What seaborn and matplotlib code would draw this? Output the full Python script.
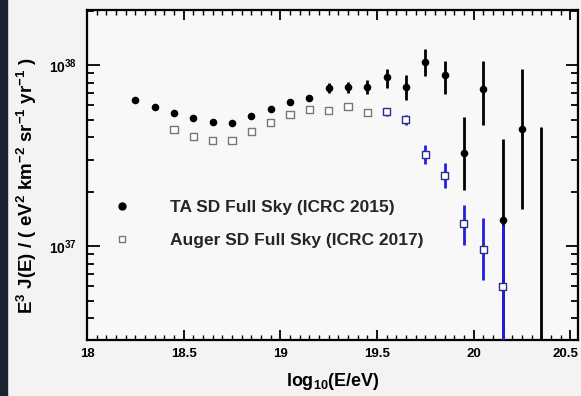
import numpy as np
import pandas as pd
import matplotlib
matplotlib.use("Agg")
import matplotlib.pyplot as plt
import matplotlib.ticker as mticker
import matplotlib.transforms as mtransforms
from matplotlib.lines import Line2D
from matplotlib.patches import Rectangle
import seaborn as sns

# ---------------- data (flux in units of 1e37 eV^2 km^-2 sr^-1 yr^-1) ----------------
ta_logE = [18.25, 18.35, 18.45, 18.55, 18.65, 18.75, 18.85, 18.95, 19.05, 19.15, 19.25,
           19.35, 19.45, 19.55, 19.65, 19.75, 19.85, 19.95, 20.05, 20.15, 20.25, 20.35]
ta_flux = [6.46, 5.89, 5.41, 5.12, 4.86, 4.77, 5.21, 5.71, 6.27, 6.59, 7.50,
           7.54, 7.59, 8.55, 7.59, 10.4, 8.77, 3.27, 7.35, 1.39, 4.42, 0.20]
ta_low = [6.40, 5.83, 5.35, 5.05, 4.78, 4.68, 5.10, 5.57, 6.08, 6.33, 7.00,
          7.00, 6.92, 7.46, 6.41, 8.69, 6.92, 2.04, 4.66, 0.01, 1.60, 0.01]
ta_high = [6.52, 5.95, 5.47, 5.19, 4.94, 4.86, 5.32, 5.85, 6.46, 6.86, 7.95,
           8.05, 8.26, 9.50, 8.81, 12.25, 10.52, 5.16, 10.52, 3.90, 9.50, 4.54]

auger_logE = [18.45, 18.55, 18.65, 18.75, 18.85, 18.95, 19.05, 19.15, 19.25,
              19.35, 19.45, 19.55, 19.65, 19.75, 19.85, 19.95, 20.05, 20.15]
auger_flux = [4.43, 4.02, 3.85, 3.82, 4.28, 4.82, 5.34, 5.71, 5.64,
              5.89, 5.45, 5.52, 5.01, 3.22, 2.47, 1.33, 0.962, 0.601]
auger_low = [4.40, 3.99, 3.82, 3.79, 4.24, 4.78, 5.29, 5.65, 5.57,
             5.81, 5.36, 5.22, 4.66, 2.84, 2.09, 1.01, 0.649, 0.01]
auger_high = [4.46, 4.05, 3.88, 3.85, 4.32, 4.86, 5.39, 5.77, 5.71,
              5.97, 5.54, 5.80, 5.29, 3.61, 2.88, 1.69, 1.43, 1.31]

legend_labels = ["TA SD Full Sky (ICRC 2015)", "Auger SD Full Sky (ICRC 2017)"]
x_ticks = [18, 18.5, 19, 19.5, 20, 20.5]
y_ticks = [1e37, 1e38]
y_tick_labels = [r"$10^{37}$", r"$10^{38}$"]

SCALE = 1e37
ta = pd.DataFrame({"logE": ta_logE,
                   "flux": np.array(ta_flux) * SCALE,
                   "low": np.array(ta_low) * SCALE,
                   "high": np.array(ta_high) * SCALE})
auger = pd.DataFrame({"logE": auger_logE,
                      "flux": np.array(auger_flux) * SCALE,
                      "low": np.array(auger_low) * SCALE,
                      "high": np.array(auger_high) * SCALE})

# ---------------- style ----------------
sns.set_theme(style="ticks")
plt.rcParams["font.family"] = ["Liberation Sans", "DejaVu Sans"]
plt.rcParams["font.weight"] = "bold"
plt.rcParams["mathtext.fontset"] = "custom"
plt.rcParams["mathtext.rm"] = "Liberation Sans:bold"
plt.rcParams["mathtext.bf"] = "Liberation Sans:bold"
plt.rcParams["mathtext.it"] = "Liberation Sans:bold"
plt.rcParams["mathtext.default"] = "bf"

W, H = 581, 396
fig = plt.figure(figsize=(W / 100, H / 100), dpi=100, facecolor="#f3f3f3")
ax = fig.add_axes([87 / W, 56 / H, 491 / W, 330.5 / H])
ax.set_facecolor("#f8f8f8")
fig.patches.append(Rectangle((0, 0), 7 / W, 1, transform=fig.transFigure,
                             color="#1b2230", zorder=0))

ax.set_yscale("log")

# error bars
ax.vlines(ta["logE"], ta["low"], ta["high"], color="black", lw=2.0, zorder=3)
ax.vlines(auger["logE"], auger["low"], auger["high"], color="#1f1fe0", lw=2.0, zorder=3.5)

# markers
sns.scatterplot(data=ta, x="logE", y="flux", ax=ax, color="black", marker="o",
                s=30, linewidth=0, edgecolor="black", zorder=4, legend=False)
auger_edges = ["#777777" if v < 19.5 else "#2c2c90" for v in auger["logE"]]
sns.scatterplot(data=auger, x="logE", y="flux", ax=ax, color="white", marker="s",
                s=26, linewidth=1.0, edgecolor=auger_edges, zorder=5, legend=False)

ax.set_xlim(18, 20.54)
ax.set_ylim(3.03e36, 2.03e38)

ax.xaxis.set_major_locator(mticker.FixedLocator(x_ticks))
ax.xaxis.set_major_formatter(mticker.FuncFormatter(lambda v, p: f"{v:g}"))
ax.xaxis.set_minor_locator(mticker.MultipleLocator(0.05))
ax.yaxis.set_major_locator(mticker.FixedLocator(y_ticks))
ax.yaxis.set_major_formatter(mticker.FixedFormatter(y_tick_labels))
ax.yaxis.set_minor_locator(mticker.LogLocator(base=10, subs=np.arange(2, 10)))
ax.yaxis.set_minor_formatter(mticker.NullFormatter())

ax.tick_params(which="both", direction="in", top=True, right=True, colors="black",
               width=1.3)
ax.tick_params(axis="x", which="major", length=7, pad=6, labelsize=9.5)
ax.tick_params(axis="x", which="minor", length=3.5, width=1.0)
ax.tick_params(axis="y", which="major", length=9, pad=7, labelsize=10)
ax.tick_params(axis="y", which="minor", length=5)
for s in ax.spines.values():
    s.set_color("black")
    s.set_linewidth(1.6)

# keep the last x tick label inside the image
fig.canvas.draw()
last_lbl = ax.get_xticklabels()[-1]
last_lbl.set_transform(last_lbl.get_transform() +
                       mtransforms.ScaledTranslation(-5 / 100, 0, fig.dpi_scale_trans))

ax.set_xlabel(r"log$_{10}$(E/eV)", fontsize=13, fontweight="bold", color="black")
ax.set_ylabel(r"E$^{3}$ J(E) / ( eV$^{2}$ km$^{-2}$ sr$^{-1}$ yr$^{-1}$ )",
              fontsize=13.5, fontweight="bold", color="black")
ax.xaxis.set_label_coords(0.5, -0.095)
ax.yaxis.set_label_coords(-0.097, 0.466)

handles = [Line2D([], [], ls="none", marker="o", color="black", markersize=5),
           Line2D([], [], ls="none", marker="s", markerfacecolor="white",
                  markeredgecolor="#777777", markeredgewidth=1.0, markersize=5)]
ax.legend(handles, legend_labels, loc="center left", frameon=False,
          bbox_to_anchor=(107 / W, (H - 224) / H), bbox_transform=fig.transFigure,
          handlelength=1.73, handletextpad=1.9, labelspacing=1.0,
          borderpad=0, borderaxespad=0, prop={"weight": "bold", "size": 12.5})

fig.savefig("out.png", dpi=100, facecolor=fig.get_facecolor())
